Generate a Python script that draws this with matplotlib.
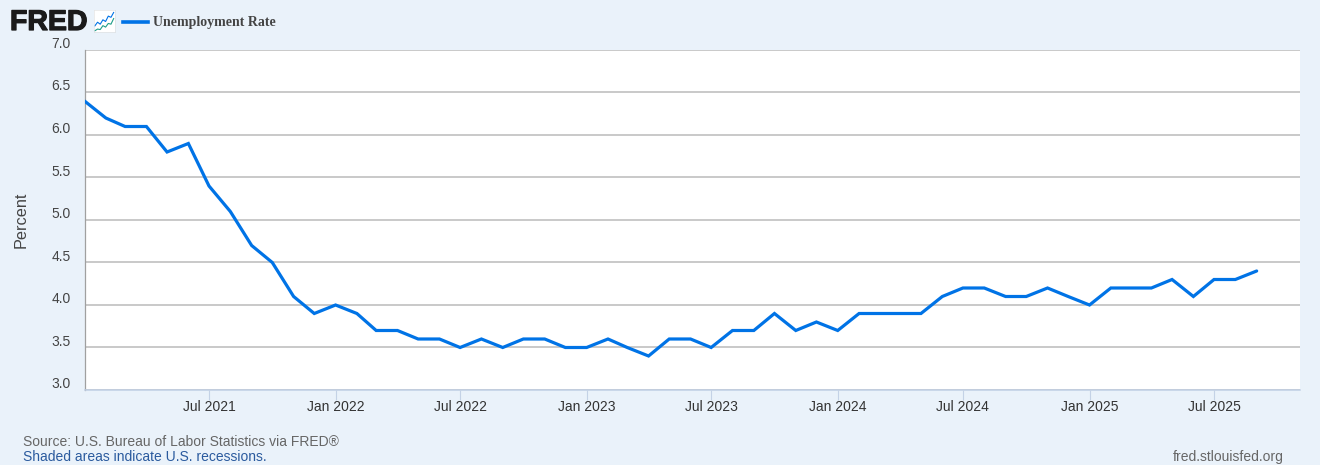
import matplotlib
matplotlib.use("Agg")
import matplotlib.pyplot as plt
import matplotlib.dates as mdates
import matplotlib.patheffects as pe
from matplotlib.transforms import ScaledTranslation
import pandas as pd

W, H = 1320, 465
BG = "#eaf2fa"
rate_2021 = [6.4, 6.2, 6.1, 6.1, 5.8, 5.9, 5.4, 5.1, 4.7, 4.5, 4.1, 3.9]
rate_2022 = [4.0, 3.9, 3.7, 3.7, 3.6, 3.6, 3.5, 3.6, 3.5, 3.6, 3.6, 3.5]
rate_2023 = [3.5, 3.6, 3.5, 3.4, 3.6, 3.6, 3.5, 3.7, 3.7, 3.9, 3.7, 3.8]
rate_2024 = [3.7, 3.9, 3.9, 3.9, 3.9, 4.1, 4.2, 4.2, 4.1, 4.1, 4.2, 4.1]
rate_2025 = [4.0, 4.2, 4.2, 4.2, 4.3, 4.1, 4.3, 4.3, 4.4]
rates = rate_2021 + rate_2022 + rate_2023 + rate_2024 + rate_2025
months = pd.date_range("2021-01-01", periods=len(rates), freq="MS")
y_ticks = [3.0, 3.5, 4.0, 4.5, 5.0, 5.5, 6.0, 6.5, 7.0]
x_ticks = ["2021-07-01", "2022-01-01", "2022-07-01", "2023-01-01", "2023-07-01",
           "2024-01-01", "2024-07-01", "2025-01-01", "2025-07-01"]

plt.rcParams["font.family"] = ["Liberation Sans", "DejaVu Sans"]
fig = plt.figure(figsize=(W / 100, H / 100), dpi=100, facecolor=BG)
L, R, T, B = 84.5, 1300, 50, 390
ax = fig.add_axes([L / W, 1 - B / H, (R - L) / W, (B - T) / H], facecolor="white")
ax.plot(months, rates, color="#0073e6", lw=2.3, solid_joinstyle="miter",
        solid_capstyle="round", zorder=3)
ax.set_xlim(pd.Timestamp("2021-01-01"), pd.Timestamp("2021-01-01") + pd.Timedelta(days=1767))
ax.set_ylim(3.0, 7.0)
ax.set_yticks(y_ticks, [f"{v:.1f}" for v in y_ticks])
ax.set_xticks(pd.to_datetime(x_ticks))
ax.xaxis.set_major_formatter(mdates.DateFormatter("%b %Y"))
ax.grid(axis="y", color="#c0c0c0", lw=1.2, zorder=1)
ax.tick_params(axis="y", length=0, pad=10, labelsize=10, labelcolor="#444444")
ax.tick_params(axis="x", length=7, width=0.8, color="#c4d2e6", pad=0, labelsize=10, labelcolor="#333333")
up = ScaledTranslation(0, 6.0 / 100, fig.dpi_scale_trans)
for lab in ax.get_yticklabels():
    lab.set_verticalalignment("center")
    lab.set_transform(lab.get_transform() + up)
for s in ("top", "right"):
    ax.spines[s].set_visible(False)
ax.spines["left"].set_color("#a0a0a0")
ax.spines["left"].set_linewidth(0.9)
ax.spines["bottom"].set_color("#c0cfe4")
ax.spines["bottom"].set_linewidth(1.1)
fig.text(21.5 / W, 1 - 219.5 / H, "Percent", rotation=90, ha="center", va="center",
         fontsize=11.7, color="#444444")

# header: wordmark, small icon, legend
fig.text(10 / W, 1 - 23 / H, "FRED", fontsize=20.5, fontweight="bold", color="#1a1a1a",
         ha="left", va="center", family="Liberation Sans",
         path_effects=[pe.withStroke(linewidth=0.9, foreground="#1a1a1a")])
icon = fig.add_axes([93.5 / W, 1 - 32 / H, 21.5 / W, 22 / H], facecolor="white")
icon.plot([0, 1, 2, 3, 4, 5, 6, 7], [2.5, 4, 3.2, 5, 4.3, 6.5, 6, 8], color="#0073e6", lw=0.8)
icon.plot([0, 1, 2, 3, 4, 5, 6, 7], [0.5, 1.2, 1, 2.6, 2, 3.5, 3.2, 5.5], color="#1f9e89", lw=0.8)
icon.set_xlim(-0.5, 7.5)
icon.set_ylim(0, 9)
icon.set_xticks([])
icon.set_yticks([])
for s in icon.spines.values():
    s.set_color("#dddddd")
    s.set_linewidth(0.4)
fig.add_artist(plt.Line2D([123 / W, 148 / W], [1 - 22 / H] * 2, color="#0073e6", lw=2.6,
                          transform=fig.transFigure))
fig.text(153 / W, 1 - 22.5 / H, "Unemployment Rate", fontsize=10, fontweight="bold",
         color="#444444", ha="left", va="center", family="Liberation Serif")

# footer
fig.text(23 / W, 1 - 441.5 / H, "Source: U.S. Bureau of Labor Statistics via FRED\u00ae",
         fontsize=10, color="#666666", ha="left", va="center")
fig.text(23 / W, 1 - 456.5 / H, "Shaded areas indicate U.S. recessions.",
         fontsize=10, color="#2a5a9e", ha="left", va="center")
fig.text(1284 / W, 1 - 456.5 / H, "fred.stlouisfed.org",
         fontsize=10, color="#666666", ha="right", va="center")
fig.savefig("out.png", dpi=100, facecolor=BG)
